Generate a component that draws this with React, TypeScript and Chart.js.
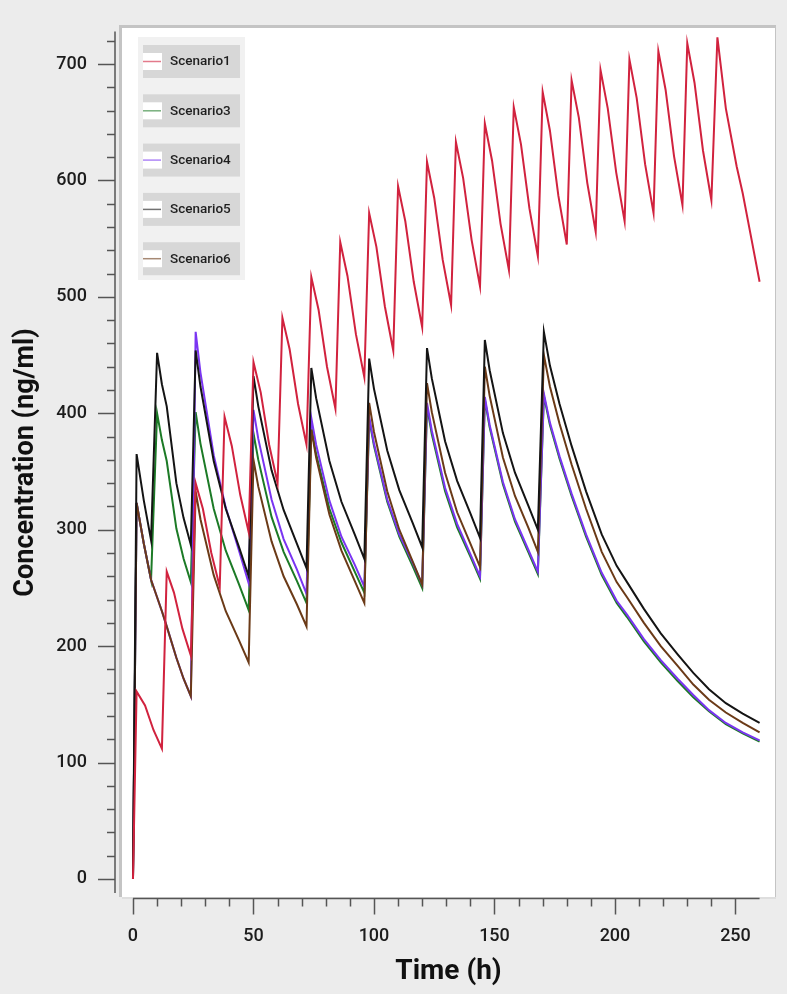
import React, { useEffect, useRef } from 'react';
import { Chart, registerables } from 'chart.js';

Chart.register(...registerables);

// ---------- data ----------
const SERIES_LABELS = ['Scenario1', 'Scenario3', 'Scenario4', 'Scenario5', 'Scenario6'];

// Scenario1: dosing every 12 h
const S1_TIME = [
  0, 1.5, 5, 8.5,
  12, 14, 17, 20.5, 24, 26, 29, 32.5, 36, 38, 41, 44.5, 48, 50, 53, 56.5,
  60, 62, 65, 68.5, 72, 74, 77, 80.5, 84, 86, 89, 92.5, 96, 98, 101, 104.5,
  108, 110, 113, 116.5, 120, 122, 125, 128.5, 132, 134, 137, 140.5, 144, 146, 149, 152.5,
  156, 158, 161, 164.5, 168, 170, 173, 176.5, 180, 182, 185, 188.5, 192, 194, 197, 200.5,
  204, 206, 209, 212.5, 216, 218, 221, 224.5, 228, 230, 233, 236.5,
  240, 242.5, 246, 250.5, 253, 256.7, 260,
];
const S1_CONC = [
  0, 161, 149, 128,
  112, 264, 246, 215, 192, 340, 318, 280, 251, 397, 372, 330, 298, 444, 418, 373,
  340, 482, 455, 408, 373, 517, 489, 440, 404, 547, 518, 468, 431, 572, 543, 492,
  454, 595, 565, 513, 474, 616, 585, 532, 493, 633, 602, 549, 509, 649, 617, 563,
  523, 663, 631, 576, 535, 676, 643, 587, 545, 686, 654, 598, 556, 695, 662, 607,
  565, 704, 671, 614, 572, 711, 678, 621, 579, 718, 684, 626,
  583, 723, 662, 612, 589, 549, 513,
];

// Scenarios 3-6: shared sampling times
const Q24_TIME = [
  0, 1.5, 4.5, 7.5, 10, 12, 14, 18, 21, 24,
  26, 28, 33.5, 38.5, 44, 48,
  50, 52, 57.5, 62.5, 68, 72,
  74, 76, 81.5, 86.5, 92, 96,
  98, 100, 105.5, 110.5, 116, 120,
  122, 124, 129.5, 134.5, 140, 144,
  146, 148, 153.5, 158.5, 164, 168,
  170.5, 173, 177, 182, 188, 194.5, 200.7, 205, 212, 219, 226, 232.5, 239, 246, 253, 260,
];
const S3_CONC = [
  0, 323, 288, 257, 400, 377, 359, 301, 275, 255,
  401, 374, 318, 282, 253, 231,
  383, 360, 311, 281, 256, 237,
  388, 365, 318, 289, 264, 246,
  395, 372, 324, 294, 269, 250,
  406, 382, 333, 302, 277, 258,
  412, 388, 339, 307, 281, 262,
  415, 390, 361, 329, 294, 261, 237, 225, 204, 186, 170, 156, 144, 133, 125, 118,
];
const S4_CONC = [
  0, 323, 288, 257, 242, 230, 217, 190, 172, 157,
  470, 435, 364, 319, 282, 254,
  403, 378, 326, 292, 266, 245,
  396, 373, 325, 294, 270, 251,
  397, 374, 326, 296, 272, 253,
  409, 385, 336, 305, 279, 260,
  414, 390, 341, 309, 283, 264,
  417, 392, 363, 331, 296, 263, 239, 227, 206, 188, 172, 158, 145, 134, 126, 119,
];
const S5_CONC = [
  0, 365, 325, 291, 452, 425, 406, 340, 310, 287,
  454, 423, 359, 318, 285, 260,
  432, 406, 351, 317, 288, 267,
  439, 413, 359, 324, 296, 275,
  447, 421, 368, 334, 306, 285,
  456, 430, 376, 342, 314, 293,
  463, 437, 383, 349, 321, 300,
  470, 441, 408, 372, 333, 296, 269, 255, 232, 211, 193, 177, 163, 151, 142, 134,
];
const S6_CONC = [
  0, 323, 288, 257, 242, 230, 217, 190, 172, 157,
  333, 309, 261, 230, 205, 186,
  360, 337, 290, 260, 236, 217,
  386, 362, 313, 282, 256, 237,
  409, 384, 333, 300, 273, 253,
  426, 401, 349, 315, 288, 268,
  440, 415, 362, 329, 302, 281,
  450, 423, 391, 356, 318, 281, 255, 242, 220, 200, 183, 167, 154, 143, 134, 126,
];

const X_TICKS = [0, 50, 100, 150, 200, 250];
const Y_TICKS = [0, 100, 200, 300, 400, 500, 600, 700];
const X_MINOR_STEP = 10;
const Y_MINOR_STEP = 20;
const X_AXIS_RANGE = [0, 260];
const Y_AXIS_RANGE = [-12, 728];

// ---------- styles ----------
const PAGE_BG = '#ececec';
const COLORS = ['#d1223e', '#1c7a26', '#7a35f2', '#141414', '#6b3a17'];
const DRAW_ORDER = [0, 4, 3, 1, 2];
const FONT = 'Roboto';
const TEXT_COLOR = '#1c1c1c';

const pts = (t: number[], c: number[]) => t.map((x, i) => ({ x, y: c[i] }));

const backgroundPlugin = {
  id: 'plotBackground',
  beforeDraw(chart: any) {
    const { ctx, chartArea: a, width, height } = chart;
    ctx.save();
    ctx.fillStyle = PAGE_BG;
    ctx.fillRect(0, 0, width, height);
    ctx.fillStyle = '#c4c4c4';
    ctx.fillRect(a.left - 3, a.top - 3, a.right - a.left + 4, a.bottom - a.top + 3);
    ctx.fillStyle = '#dedede';
    ctx.fillRect(a.left, a.bottom, a.right - a.left + 1, 2);
    ctx.fillStyle = '#ffffff';
    ctx.fillRect(a.left, a.top, a.right - a.left, a.bottom - a.top);
    ctx.restore();
  },
};

const axesPlugin = {
  id: 'offsetAxes',
  afterDraw(chart: any) {
    const { ctx, chartArea: a } = chart;
    const x = chart.scales.x;
    const y = chart.scales.y;
    const axX = a.left - 7;
    const axY = a.bottom + 1.5;
    ctx.save();
    ctx.strokeStyle = '#555555';
    ctx.lineWidth = 1.5;
    ctx.beginPath();
    // y axis
    ctx.moveTo(axX, y.getPixelForValue(Y_AXIS_RANGE[0]));
    ctx.lineTo(axX, y.getPixelForValue(Y_AXIS_RANGE[1]));
    for (let v = 0; v <= Y_AXIS_RANGE[1]; v += Y_MINOR_STEP) {
      const py = Math.round(y.getPixelForValue(v)) + 0.5;
      const len = Y_TICKS.includes(v) ? 17 : 8;
      ctx.moveTo(axX - len, py);
      ctx.lineTo(axX, py);
    }
    // x axis
    ctx.moveTo(x.getPixelForValue(X_AXIS_RANGE[0]), axY);
    ctx.lineTo(x.getPixelForValue(X_AXIS_RANGE[1]), axY);
    for (let v = X_AXIS_RANGE[0]; v < X_AXIS_RANGE[1]; v += X_MINOR_STEP) {
      const px = Math.round(x.getPixelForValue(v)) + 0.5;
      const len = X_TICKS.includes(v) ? 16 : 8;
      ctx.moveTo(px, axY);
      ctx.lineTo(px, axY + len);
    }
    ctx.stroke();
    ctx.restore();
  },
};

const legendPlugin = {
  id: 'boxLegend',
  afterDatasetsDraw(chart: any) {
    const { ctx } = chart;
    ctx.save();
    ctx.fillStyle = '#f1f1f1';
    ctx.fillRect(138, 37, 107, 243);
    chart.data.datasets.forEach((ds: any, i: number) => {
      const top = 45 + i * 49.3;
      ctx.fillStyle = '#d7d7d7';
      ctx.fillRect(143, top, 97, 33);
      ctx.fillStyle = '#ffffff';
      ctx.fillRect(143, top + 8, 19, 17);
      ctx.globalAlpha = 0.6;
      ctx.strokeStyle = ds.borderColor;
      ctx.lineWidth = 1.5;
      ctx.beginPath();
      ctx.moveTo(143, top + 16.5);
      ctx.lineTo(161, top + 16.5);
      ctx.stroke();
      ctx.globalAlpha = 1;
      ctx.fillStyle = '#1e1e1e';
      ctx.font = `500 13.5px ${FONT}`;
      ctx.textBaseline = 'middle';
      ctx.textAlign = 'left';
      ctx.fillText(ds.label, 170, top + 17);
    });
    ctx.restore();
  },
};

export default function App() {
  const canvasRef = useRef<HTMLCanvasElement | null>(null);

  useEffect(() => {
    document.body.style.margin = '0';
    document.body.style.background = PAGE_BG;
    const canvas = canvasRef.current;
    if (!canvas) return;

    const seriesData = [
      pts(S1_TIME, S1_CONC),
      pts(Q24_TIME, S3_CONC),
      pts(Q24_TIME, S4_CONC),
      pts(Q24_TIME, S5_CONC),
      pts(Q24_TIME, S6_CONC),
    ];

    const chart = new Chart(canvas, {
      type: 'line',
      data: {
        datasets: SERIES_LABELS.map((label, i) => ({
          label,
          data: seriesData[i],
          borderColor: COLORS[i],
          backgroundColor: COLORS[i],
          borderWidth: 2,
          pointRadius: 0,
          tension: 0,
          fill: false,
          order: DRAW_ORDER[i],
        })),
      },
      options: {
        animation: false,
        responsive: false,
        maintainAspectRatio: false,
        layout: { padding: { top: 28, right: 12, left: 0, bottom: 0 }, autoPadding: false },
        plugins: {
          legend: { display: false },
          tooltip: { enabled: false },
        },
        scales: {
          x: {
            type: 'linear',
            min: -4.56,
            max: 266.4,
            afterFit: (s: any) => {
              s.height = 97;
              s.paddingLeft = 0;
              s.paddingRight = 0;
            },
            afterBuildTicks: (s: any) => {
              s.ticks = X_TICKS.map((value) => ({ value }));
            },
            grid: { display: false, drawTicks: false },
            border: { display: false },
            ticks: {
              padding: 29,
              color: TEXT_COLOR,
              font: { family: FONT, size: 18, weight: '500' },
              maxRotation: 0,
              autoSkip: false,
            },
            title: {
              display: true,
              text: 'Time (h)',
              color: '#111111',
              font: { family: FONT, size: 28, weight: 'bold' },
              padding: { top: 0, bottom: 5 },
            },
          },
          y: {
            type: 'linear',
            min: -15.5,
            max: 731,
            afterFit: (s: any) => {
              s.width = 122;
              s.paddingTop = 0;
              s.paddingBottom = 0;
            },
            afterBuildTicks: (s: any) => {
              s.ticks = Y_TICKS.map((value) => ({ value }));
            },
            grid: { display: false, drawTicks: false },
            border: { display: false },
            ticks: {
              padding: 35,
              color: TEXT_COLOR,
              font: { family: FONT, size: 18, weight: '500' },
              autoSkip: false,
            },
            title: {
              display: true,
              text: 'Concentration (ng/ml)',
              color: '#111111',
              font: { family: FONT, size: 27, weight: 'bold' },
              padding: { top: 10, bottom: 0 },
            },
          },
        },
      },
      plugins: [backgroundPlugin, axesPlugin, legendPlugin],
    } as any);

    return () => chart.destroy();
  }, []);

  return (
    <div style={{ width: 787, height: 994, background: PAGE_BG }}>
      <canvas ref={canvasRef} width={787} height={994} style={{ display: 'block' }} />
    </div>
  );
}
